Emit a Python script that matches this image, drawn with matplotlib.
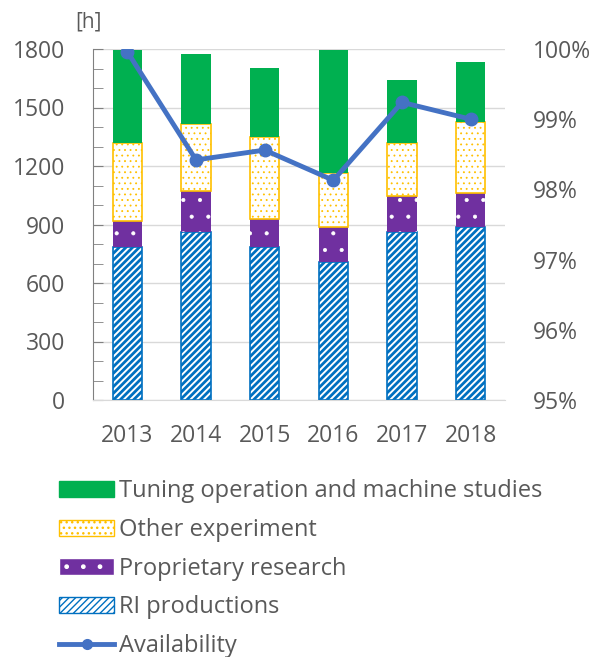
import numpy as np
import matplotlib.pyplot as plt
from matplotlib.patches import Patch
from matplotlib.lines import Line2D
from matplotlib.ticker import MultipleLocator, FuncFormatter

years = ["2013", "2014", "2015", "2016", "2017", "2018"]
ri_prod = [786, 860, 786, 706, 860, 889]
proprietary = [134, 213, 142, 183, 184, 174]
other_exp = [400, 341, 422, 277, 276, 361]
tuning = [475, 360, 351, 629, 319, 308]
availability = [99.96, 98.42, 98.56, 98.13, 99.24, 99.00]

TXT = "#595959"
plt.rcParams["font.family"] = ["Open Sans", "DejaVu Sans"]
plt.rcParams["text.color"] = TXT

fig = plt.figure(figsize=(5.94, 6.57), dpi=100)
ax = fig.add_axes([93 / 594, 1 - 400 / 657, 412 / 594, 351 / 657])

x = np.arange(len(years))
w = 0.43
bottom = np.zeros(len(years))

with plt.rc_context({"hatch.linewidth": 2.0}):
    ax.bar(x, ri_prod, w, bottom=bottom, facecolor="white", edgecolor="#0070C0",
           hatch="/////", linewidth=1.2, zorder=2)
bottom += ri_prod
with plt.rc_context({"hatch.linewidth": 0.5}):
    ax.bar(x, proprietary, w, bottom=bottom, facecolor="#7030A0", edgecolor="white",
           hatch=".", linewidth=0, zorder=2)
bottom += proprietary
with plt.rc_context({"hatch.linewidth": 0.6}):
    ax.bar(x, other_exp, w, bottom=bottom, facecolor="white", edgecolor="#FFC000",
           hatch="...", linewidth=1.2, zorder=2)
bottom += other_exp
ax.bar(x, tuning, w, bottom=bottom, color="#00B050", linewidth=0, zorder=2)

ax.set_xlim(-0.5, len(years) - 0.5)
ax.set_ylim(0, 1800)
ax.yaxis.set_major_locator(MultipleLocator(300))
ax.yaxis.set_minor_locator(MultipleLocator(100))
ax.grid(axis="y", color="#D9D9D9", linewidth=1, zorder=0)
ax.set_axisbelow(True)
ax.set_xticks(x)
ax.set_xticklabels(years)
ax.tick_params(axis="x", length=0, pad=17, labelsize=16.5, labelcolor=TXT)
ax.tick_params(axis="y", which="both", direction="in", color="#808080",
               labelsize=16.5, labelcolor=TXT, pad=20)
ax.tick_params(axis="y", which="major", length=7)
ax.tick_params(axis="y", which="minor", length=7)
for s in ["top", "right"]:
    ax.spines[s].set_visible(False)
ax.spines["left"].set_color("#808080")
ax.spines["bottom"].set_color("#D9D9D9")

ax2 = ax.twinx()
ax2.plot(x, availability, color="#4472C4", linewidth=3.5, marker="o",
         markersize=9, zorder=5)
ax2.set_ylim(95, 100)
ax2.yaxis.set_major_locator(MultipleLocator(1))
ax2.yaxis.set_major_formatter(FuncFormatter(lambda v, p: f"{v:.0f}%"))
ax2.tick_params(axis="y", length=0, pad=20, labelsize=16.5, labelcolor=TXT)
for s in ax2.spines.values():
    s.set_visible(False)

fig.text(88 / 594, 1 - 22 / 657, "[h]", ha="center", va="center", fontsize=15, color=TXT)

handles = [
    Patch(facecolor="#00B050", edgecolor="#00B050"),
    Patch(facecolor="white", edgecolor="#FFC000", hatch="..."),
    Patch(facecolor="#7030A0", edgecolor="white", hatch="."),
    Patch(facecolor="white", edgecolor="#0070C0", hatch="/////"),
    Line2D([0], [0], color="#4472C4", linewidth=3.5, marker="o", markersize=7),
]
labels = ["Tuning operation and machine studies", "Other experiment",
          "Proprietary research", "RI productions", "Availability"]
fig.legend(handles, labels, loc="upper left", bbox_to_anchor=(50 / 594, 1 - 470 / 657),
           frameon=False, fontsize=17, handlelength=2.33, handleheight=0.68,
           handletextpad=0.2, labelspacing=0.62, borderaxespad=0, labelcolor=TXT)

fig.savefig("out.png", dpi=100)
